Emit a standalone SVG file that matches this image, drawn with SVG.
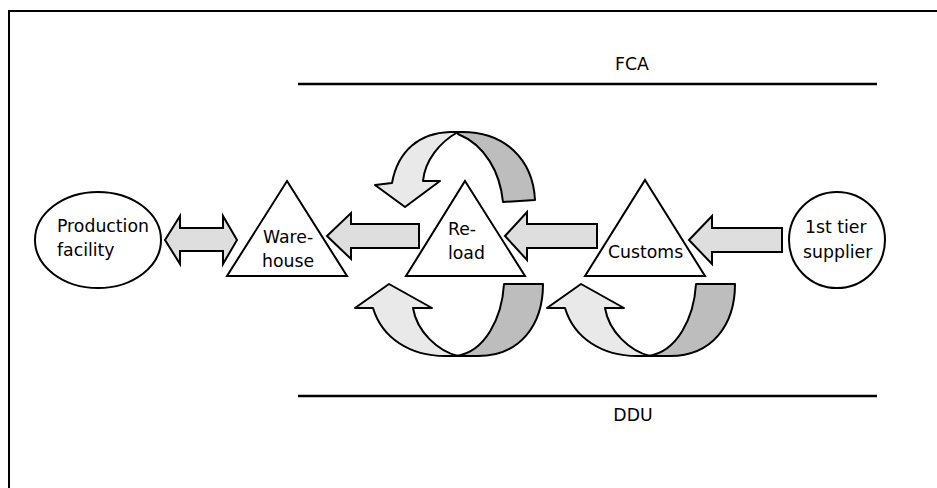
<svg xmlns="http://www.w3.org/2000/svg" width="937" height="488" viewBox="0 0 937 488">
  <style>
    text { font-family: "DejaVu Sans", Verdana, sans-serif; font-size: 17.3px; fill: #000; }
    .node { fill: #fff; stroke: #000; stroke-width: 2; }
    .flat { fill: #dedede; stroke: #000; stroke-width: 2; stroke-linejoin: miter; }
    .front { fill: #e9e9e9; stroke: #000; stroke-width: 2; stroke-linejoin: round; }
    .back { fill: #bdbdbd; stroke: #000; stroke-width: 2; stroke-linejoin: round; }
    .rule { stroke: #000; stroke-width: 2.5; }
  </style>
  <defs>
    <!-- U-shaped loop arrow opening upward, arrowhead on the left -->
    <g id="loopUp">
      <path class="back" d="M456,356 C485,352 502,318 504,284 L543,284 C543,325 520,356 478,356 Z"/>
      <path class="front" d="M373,308 C382,338 410,356 445,356 L458,356 C438,351 417,332 413,308 L432,308 L389,284 L355,308 Z"/>
    </g>
  </defs>

  <rect x="9" y="11" width="940" height="490" fill="#fff" stroke="#000" stroke-width="2"/>

  <!-- Incoterm bands -->
  <line class="rule" x1="298" y1="84" x2="877" y2="84"/>
  <text x="632" y="70" text-anchor="middle">FCA</text>
  <line class="rule" x1="298" y1="396" x2="877" y2="396"/>
  <text x="633" y="421" text-anchor="middle">DDU</text>

  <g id="connectors">
    <!-- Production facility <-> Warehouse -->
    <path class="flat" d="M165,240 L180,216 L180,228 L223,228 L223,216 L237,240 L223,264 L223,251 L180,251 L180,264 Z"/>
    <!-- Reload -> Warehouse -->
    <path class="flat" d="M327,236 L351,213 L351,224 L419,224 L419,248 L351,248 L351,259 Z"/>
    <!-- Customs -> Reload -->
    <path class="flat" d="M505,236 L527,212 L527,224 L597,224 L597,248 L527,248 L527,260 Z"/>
    <!-- 1st tier supplier -> Customs -->
    <path class="flat" d="M689,240 L712,216 L712,228 L782,228 L782,252 L712,252 L712,264 Z"/>

    <!-- loop over the top of Reload -->
    <path class="back" d="M458,132 C505,130 533,160 535,200 L503,202 C500,172 485,145 458,134 Z"/>
    <path class="front" d="M392,183 C398,150 420,133 450,132 L458,132 C440,142 425,160 423,181 L440,181 L405,207 L375,185 Z"/>

    <!-- loops under Reload and Customs -->
    <use href="#loopUp"/>
    <use href="#loopUp" transform="translate(192,0)"/>
  </g>

  <g id="production-facility">
    <ellipse class="node" cx="98" cy="240" rx="63" ry="48"/>
    <text x="57" y="232">Production</text>
    <text x="57" y="256">facility</text>
  </g>

  <g id="warehouse">
    <path class="node" d="M287,181 L347,276 L227,276 Z"/>
    <text x="263" y="243">Ware-</text>
    <text x="262" y="267">house</text>
  </g>

  <g id="reload">
    <path class="node" d="M465,181 L525,276 L406,276 Z"/>
    <text x="448" y="235">Re-</text>
    <text x="448" y="259">load</text>
  </g>

  <g id="customs">
    <path class="node" d="M645,180 L705,276 L585,276 Z"/>
    <text x="608" y="258">Customs</text>
  </g>

  <g id="supplier">
    <circle class="node" cx="837" cy="240" r="48"/>
    <text x="805" y="233">1st tier</text>
    <text x="803" y="258">supplier</text>
  </g>
</svg>
